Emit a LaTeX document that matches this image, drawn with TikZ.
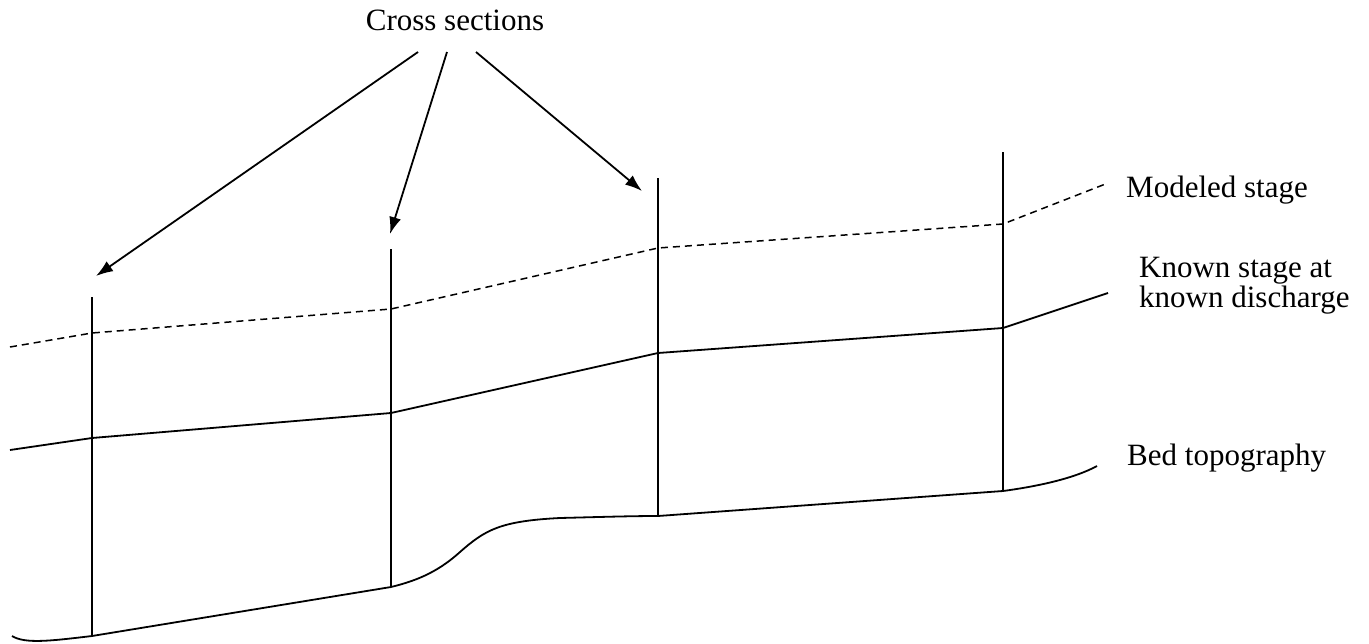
\documentclass[tikz,border=0pt]{standalone}
\usepackage{fontspec}
\setmainfont{Liberation Serif}
\usetikzlibrary{arrows.meta}
\begin{document}
\begin{tikzpicture}[x=1pt,y=-1pt,
  ln/.style={line width=1.8pt, line cap=butt},
  dsh/.style={line width=1.5pt, dash pattern=on 7pt off 5pt},
  arr/.style={line width=1.8pt, -{Latex[length=17pt,width=12pt]}},
  lbl/.style={font=\fontsize{31}{28}\selectfont, inner sep=0pt, anchor=base west, align=left}]
\useasboundingbox (0,0) rectangle (1369,643);
% labels
\node[lbl, anchor=base] (cs) at (455,30) {Cross sections};
\node[lbl] (ms) at (1126,197) {Modeled stage};
\node[lbl] (ks) at (1139,307) {Known stage at\\known discharge};
\node[lbl] (bt) at (1127,465) {Bed topography};
% cross-section lines
\coordinate (t1) at (92,297);  \coordinate (b1) at (92,636);
\coordinate (t2) at (391,249); \coordinate (b2) at (391,587);
\coordinate (t3) at (658,178); \coordinate (b3) at (658,516);
\coordinate (t4) at (1003,152); \coordinate (b4) at (1003,491);
\draw[ln] (t1) -- (b1);
\draw[ln] (t2) -- (b2);
\draw[ln] (t3) -- (b3);
\draw[ln] (t4) -- (b4);
% arrows
\coordinate (s1) at (418,52); \coordinate (e1) at (96,276);
\coordinate (s2) at (447,52); \coordinate (e2) at (390,234);
\coordinate (s3) at (476,52); \coordinate (e3) at (642,191);
\draw[arr] (s1) -- (e1);
\draw[arr] (s2) -- (e2);
\draw[arr] (s3) -- (e3);
% modeled stage (dashed)
\draw[dsh] (10,347) -- (92,333) -- (391,309) -- (658,248) -- (1003,224) -- (1108,183);
% known stage
\draw[ln] (10,450) -- (92,438) -- (391,413) -- (658,353) -- (1003,328) -- (1108,293);
% bed topography
\draw[ln] (12,636) .. controls (25,644) and (50,641) .. (b1) -- (b2)
  .. controls (420,580) and (440,570) .. (460,552)
  .. controls (485,530) and (500,521) .. (560,518)
  .. controls (600,517) and (630,516) .. (b3) -- (b4)
  .. controls (1040,486) and (1075,478) .. (1097,466);
\end{tikzpicture}
\end{document}
